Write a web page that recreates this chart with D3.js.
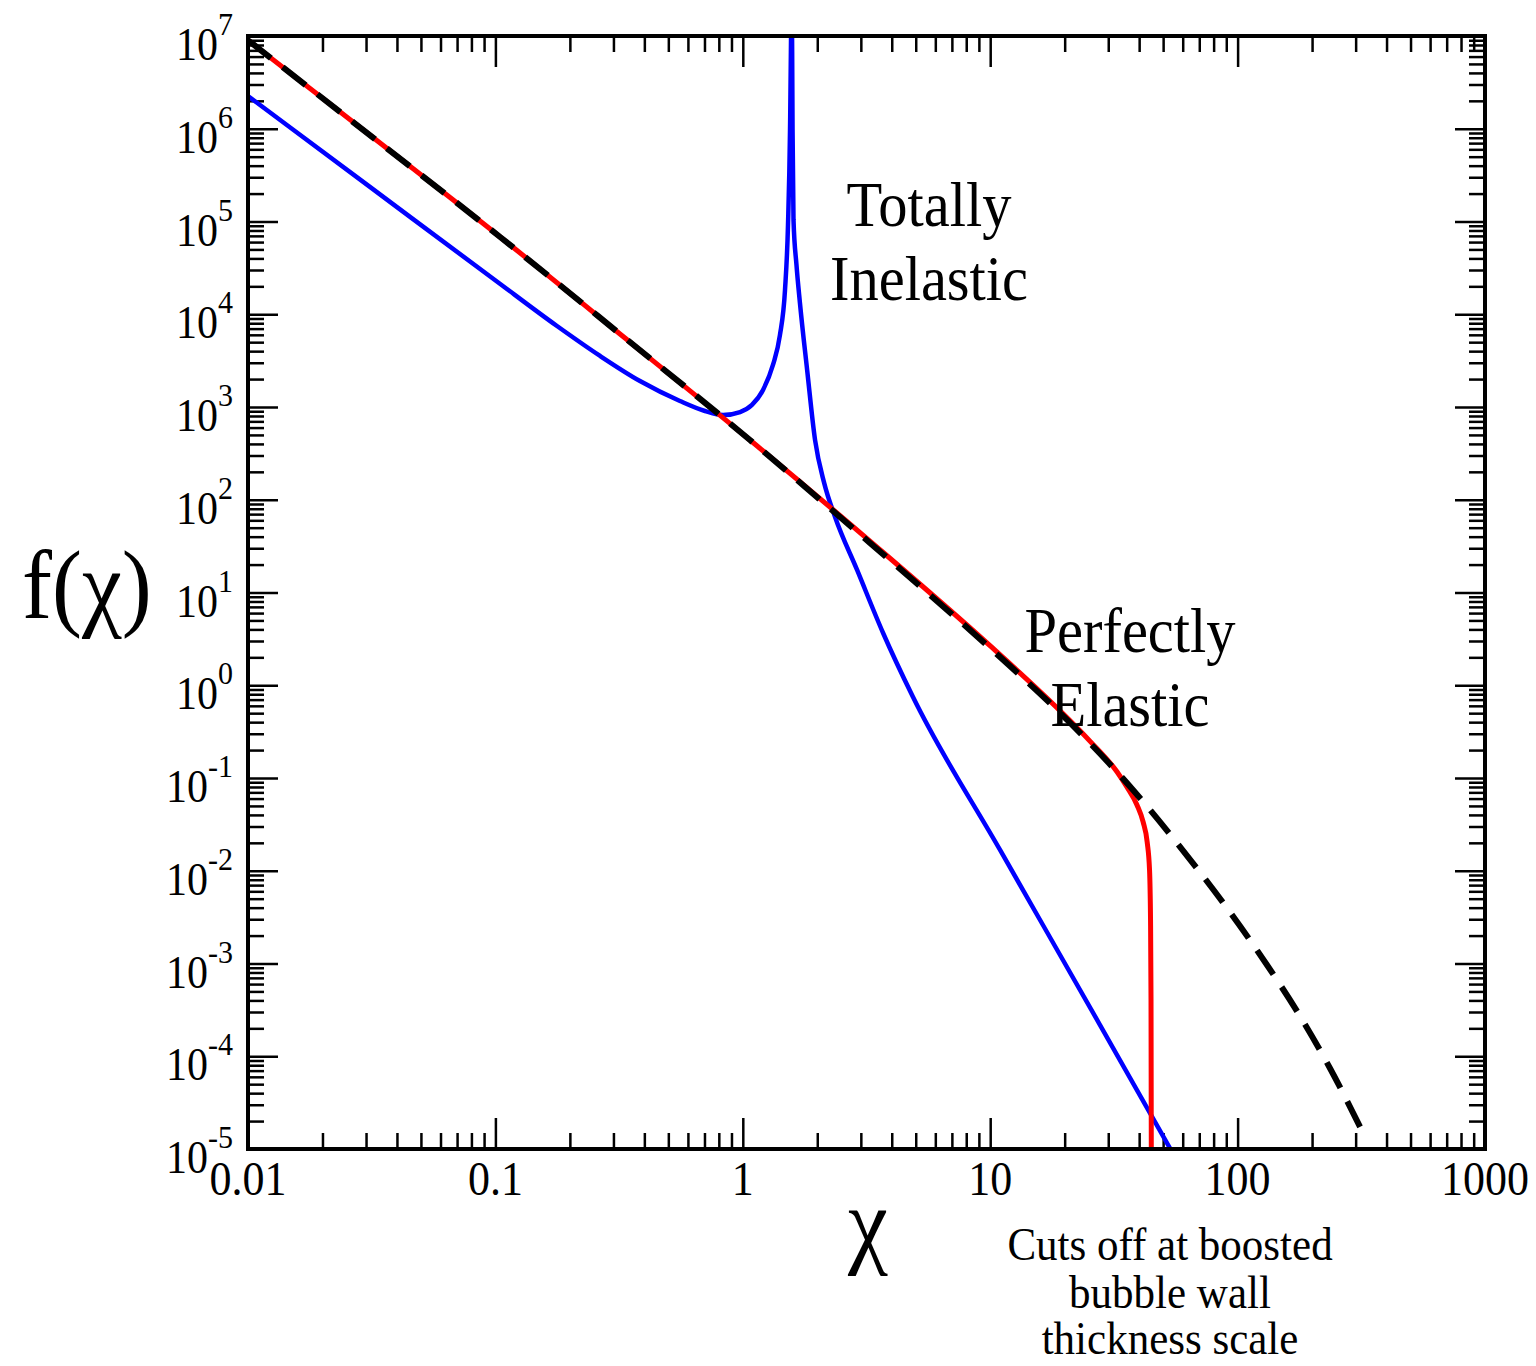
<!DOCTYPE html>
<html lang="en">
<head>
  <meta charset="utf-8">
  <title>f(chi)</title>
  <style>
    body { margin: 0; background: #fff; }
    svg text { font-family: "Liberation Serif", "DejaVu Serif", serif; fill: #000; }
    .tick line { stroke: #000; stroke-width: 2.5; }
    .domain { display: none; }
  </style>
</head>
<body>
  <svg id="chart" width="1536" height="1366"></svg>

  <script src="https://d3js.org/d3.v7.min.js"></script>
  <script>
    // values
    const inelasticChi = [0.01, 0.0311, 0.0995, 0.1774, 0.265, 0.384, 0.557, 0.703, 0.832, 0.975, 1.089, 1.207,
                          1.324, 1.413, 1.481, 1.523, 1.552, 1.567, 1.574, 1.589, 1.603, 1.648, 1.702, 1.820,
                          1.959, 2.132, 2.360, 2.897, 3.690, 4.875, 10.96, 27.8, 55.8];
    const inelasticF   = [2.25e6, 2.36e5, 2.34e4, 7464, 3548, 1905, 1161, 906, 820, 883, 1052, 1524,
                          2838, 5970, 1.82e4, 9.16e4, 9.7e5, 1e7, 6.6e7, 9.7e5, 1.04e5, 3.4e4, 1.32e4, 2506,
                          441, 152, 65.2, 17.5, 3.66, 0.746, 0.01675, 2.17e-4, 8.2e-6];

    const elasticChi = [0.01, 0.0326, 0.1045, 0.334, 1.069, 3.266, 9.98, 18.62, 25.3, 32.6, 35.7, 39.2,
                        41.5, 43.1, 44.06, 44.47, 44.67, 44.8];
    const elasticF   = [9.0e6, 7.74e5, 6.81e4, 5546, 440.6, 35.8, 2.67, 0.572, 0.25, 0.116, 0.080, 0.0512,
                        0.0336, 0.0204, 0.0102, 2.94e-3, 4.04e-4, 7.6e-6];

    const approxChi = [0.01, 0.0326, 0.1045, 0.334, 1.069, 3.266, 9.98, 18.62, 25.3, 37.8, 56.9, 93.1,
                       131.5, 178.6, 236.6, 312.6];
    const approxF   = [9.0e6, 7.74e5, 6.81e4, 5546, 440.6, 34.2, 2.52, 0.541, 0.238, 0.0743, 0.0199, 3.59e-3,
                       9.64e-4, 2.72e-4, 7.38e-5, 1.73e-5];

    const xTickLabels = ["0.01", "0.1", "1", "10", "100", "1000"];
    const yExponents = [7, 6, 5, 4, 3, 2, 1, 0, -1, -2, -3, -4, -5];

    const plotLeft = 248, plotRight = 1485, plotTop = 36, plotBottom = 1149;
    const stretch = 1.08;

    const svg = d3.select("#chart");

    const x = d3.scaleLog().domain([0.01, 1000]).range([plotLeft, plotRight]);
    const y = d3.scaleLog().domain([1e-5, 1e7]).range([plotBottom, plotTop]);

    const isMajor = v => Math.abs(Math.log10(v) - Math.round(Math.log10(v))) < 1e-9;
    const xTicks = x.ticks();
    const yTicks = y.ticks(20);
    const xMinor = xTicks.filter(v => !isMajor(v)), xMajor = xTicks.filter(isMajor);
    const yMinor = yTicks.filter(v => !isMajor(v)), yMajor = yTicks.filter(isMajor);

    // inward ticks on all four sides
    function addAxis(axisFn, scale, vals, len, tx, ty) {
      svg.append("g")
        .attr("transform", `translate(${tx},${ty})`)
        .call(axisFn(scale).tickValues(vals).tickSize(-len).tickFormat(""));
    }
    addAxis(d3.axisBottom, x, xMinor, 16, 0, plotBottom);
    addAxis(d3.axisBottom, x, xMajor, 31, 0, plotBottom);
    addAxis(d3.axisTop, x, xMinor, 16, 0, plotTop);
    addAxis(d3.axisTop, x, xMajor, 31, 0, plotTop);
    addAxis(d3.axisLeft, y, yMinor, 16, plotLeft, 0);
    addAxis(d3.axisLeft, y, yMajor, 30, plotLeft, 0);
    addAxis(d3.axisRight, y, yMinor, 16, plotRight, 0);
    addAxis(d3.axisRight, y, yMajor, 30, plotRight, 0);

    // curves
    svg.append("defs").append("clipPath").attr("id", "plotClip")
      .append("rect")
      .attr("x", plotLeft).attr("y", plotTop)
      .attr("width", plotRight - plotLeft).attr("height", plotBottom - plotTop);

    const line = d3.line()
      .x(d => x(d[0]))
      .y(d => y(d[1]))
      .curve(d3.curveMonotoneX);

    const curves = svg.append("g").attr("clip-path", "url(#plotClip)");

    curves.append("path")
      .datum(d3.zip(inelasticChi, inelasticF))
      .attr("fill", "none")
      .attr("stroke", "#0000ff")
      .attr("stroke-width", 4.5)
      .attr("d", line);

    curves.append("path")
      .datum(d3.zip(elasticChi, elasticF))
      .attr("fill", "none")
      .attr("stroke", "#ff0000")
      .attr("stroke-width", 5)
      .attr("d", line);

    curves.append("path")
      .datum(d3.zip(approxChi, approxF))
      .attr("fill", "none")
      .attr("stroke", "#000")
      .attr("stroke-width", 6)
      .attr("stroke-dasharray", "29,15")
      .attr("d", line);

    // frame
    svg.append("rect")
      .attr("x", plotLeft).attr("y", plotTop)
      .attr("width", plotRight - plotLeft).attr("height", plotBottom - plotTop)
      .attr("fill", "none")
      .attr("stroke", "#000")
      .attr("stroke-width", 4);

    // text helper, glyphs a bit taller than wide like the reference
    function label(tx, ty, str, size, anchor) {
      return svg.append("text")
        .attr("transform", `translate(${tx},${ty}) scale(1,${stretch})`)
        .attr("text-anchor", anchor || "middle")
        .attr("font-size", size)
        .text(str);
    }

    // x tick labels
    xMajor.forEach((v, i) => label(x(v), 1195, xTickLabels[i], 44));

    // y tick labels: 10 with superscript exponent
    yExponents.forEach(e => {
      const t = svg.append("text")
        .attr("transform", `translate(233,${y(Math.pow(10, e)) + 24}) scale(1,${stretch})`)
        .attr("text-anchor", "end")
        .attr("font-size", 42);
      t.append("tspan").text("10");
      t.append("tspan").attr("dy", -23).attr("font-size", 30).text(e);
    });

    // axis titles
    label(22, 618, "f(χ)", 90, "start");
    label(868, 1255, "χ", 90);

    // annotations
    label(929, 226, "Totally", 58.5);
    label(929, 300, "Inelastic", 58.5);
    label(1130, 652, "Perfectly", 58.5);
    label(1130, 726, "Elastic", 58.5);
    label(1170, 1260, "Cuts off at boosted", 43);
    label(1170, 1308, "bubble wall", 43);
    label(1170, 1354, "thickness scale", 43);
  </script>
</body>
</html>
